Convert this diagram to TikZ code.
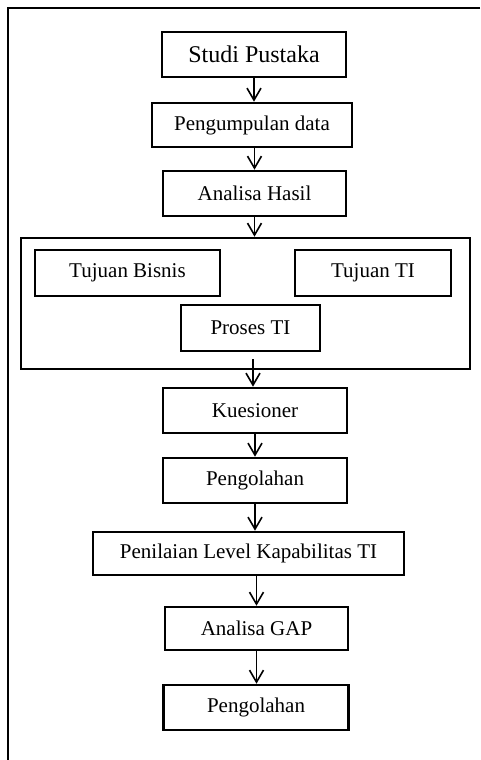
\documentclass[tikz,border=0pt]{standalone}
\usepackage{fontspec}
\setmainfont{Liberation Serif}
\usetikzlibrary{arrows.meta}

\begin{document}
\begin{tikzpicture}[x=1pt, y=-1pt,
    box/.style={draw, line width=2.6pt, inner sep=0pt, font=\fontsize{21}{25}\selectfont},
    subbox/.style={draw, line width=1.2pt, inner sep=0pt, font=\fontsize{21}{25}\selectfont},
    flow/.style={line width=1.6pt, -{Straight Barb[length=12pt, width=14pt]}}]
        \useasboundingbox (0,0) rectangle (480,760);
        \draw [line width=2.8pt] (480,8) -- (8,8) -- (8,760);
        \node [box, minimum width=184pt, minimum height=45pt, font=\fontsize{24}{28}\selectfont] (studi) at (254,54.5) {Studi Pustaka};
        \node [box, minimum width=200pt, minimum height=44pt] (kumpul) at (252,125) {Pengumpulan data};
        \node [box, minimum width=183pt, minimum height=45pt] (hasil) at (254.5,193.5) {Analisa Hasil};
        \node [box, minimum width=449pt, minimum height=131pt] (tujuan) at (245.5,303.5) {};
        \node [subbox, minimum width=185pt, minimum height=46pt] (bisnis) at (127.5,273) {Tujuan Bisnis};
        \node [subbox, minimum width=156pt, minimum height=46pt] (tujuanti) at (373,273) {Tujuan TI};
        \node [subbox, minimum width=139pt, minimum height=46pt] (proses) at (250.5,328) {Proses TI};
        \coordinate (keluar) at (253,359);
        \node [box, minimum width=184pt, minimum height=45pt] (kuesioner) at (255,410.5) {Kuesioner};
        \node [box, minimum width=184pt, minimum height=45pt] (olah) at (255,480.5) {Pengolahan};
        \node [box, minimum width=311pt, minimum height=43pt] (nilai) at (248.5,553.5) {Penilaian Level Kapabilitas TI};
        \node [box, minimum width=183pt, minimum height=43pt] (gap) at (256.5,628.5) {Analisa GAP};
        \node [box, minimum width=185pt, minimum height=45pt] (olahakhir) at (256,707.5) {Pengolahan};
        \draw [flow] (studi.south) -- (studi.south |- kumpul.north);
        \draw [flow] (hasil.north |- kumpul.south) -- (hasil.north);
        \draw [flow] (hasil.south) -- (hasil.south |- tujuan.north);
        \draw [flow] (keluar) -- (keluar |- kuesioner.north);
        \draw [flow] (kuesioner.south) -- (olah.north);
        \draw [flow] (olah.south) -- (olah.south |- nilai.north);
        \draw [flow] (nilai.south -| gap.north) -- (gap.north);
        \draw [flow] (gap.south) -- (gap.south |- olahakhir.north);
    \end{tikzpicture}
\end{document}
